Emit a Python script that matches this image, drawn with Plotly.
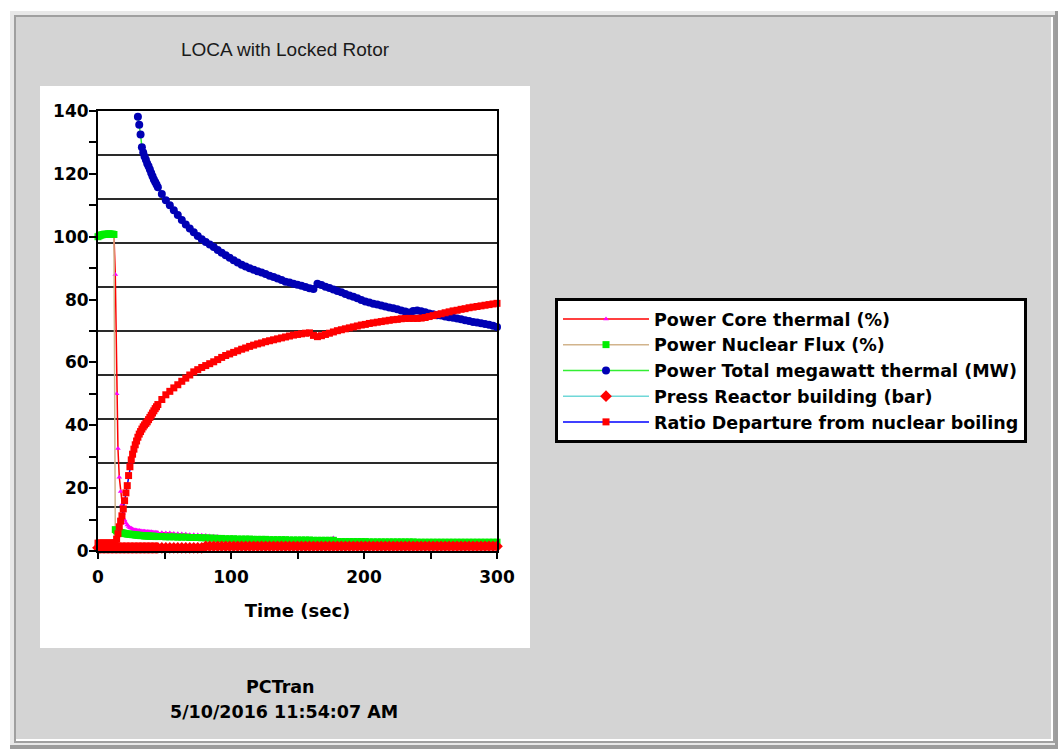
import plotly.graph_objects as go

# ---------------- data ----------------
time_s = list(range(0, 45)) + list(range(45, 301, 3))  # sample times (s)

power_core_thermal = [
    100.0, 100.2, 100.4, 100.5, 100.6, 100.6, 100.7, 100.7, 100.8, 100.8, 100.8, 100.8,
    100.6,
    88.0, 50.0, 32.6, 23.5, 18.9, 14.8, 12.0, 9.9, 8.9, 8.3, 7.8, 7.4, 7.2, 7.0, 6.8, 6.7, 6.6, 6.5,
    6.5, 6.4, 6.4, 6.3, 6.3, 6.2, 6.2, 6.1, 6.1, 6.1, 6.0, 6.0, 6.0, 5.9,
    5.9, 5.8, 5.7, 5.7, 5.6, 5.5, 5.4, 5.3, 5.2, 5.2,
    5.1, 5.0, 4.9, 4.8, 4.7, 4.6, 3.9, 3.8, 3.8, 3.8,
    3.7, 3.7, 3.7, 3.7, 3.6, 3.6, 3.6, 3.6, 3.5, 3.5,
    3.5, 3.5, 3.5, 3.4, 3.4, 3.4, 3.4, 3.4, 3.4, 3.3,
    3.3, 3.3, 3.3, 3.3, 4.1, 2.9, 2.9, 2.9, 2.9, 2.9,
    2.9, 2.9, 2.9, 2.8, 2.8, 2.8, 2.8, 2.8, 2.8, 2.8,
    2.8, 2.8, 2.8, 2.8, 2.8, 2.7, 2.7, 2.7, 2.7, 2.7,
    2.7, 2.7, 2.7, 2.7, 2.7, 2.7, 2.7, 2.7, 2.7, 2.7,
    2.7, 2.7, 2.7, 2.7, 2.7, 2.7,
]

power_nuclear_flux = [
    100.0, 100.3, 100.5, 100.6, 100.7, 100.8, 100.8, 100.8, 100.9, 100.9, 100.8, 100.8,
    100.7,
    6.8, 6.4, 6.2, 6.0, 5.9, 5.8, 5.7, 5.6, 5.5, 5.4, 5.4, 5.3, 5.3, 5.2, 5.2, 5.1, 5.1, 5.0,
    5.0, 4.9, 4.9, 4.9, 4.8, 4.8, 4.8, 4.8, 4.7, 4.7, 4.7, 4.7, 4.6, 4.6,
    4.6, 4.6, 4.5, 4.5, 4.5, 4.4, 4.4, 4.4, 4.3, 4.3,
    4.3, 4.2, 4.2, 4.1, 4.1, 4.0, 4.0, 3.9, 3.9, 3.9,
    3.8, 3.8, 3.8, 3.8, 3.7, 3.7, 3.7, 3.7, 3.6, 3.6,
    3.6, 3.6, 3.6, 3.5, 3.5, 3.5, 3.5, 3.5, 3.5, 3.4,
    3.4, 3.4, 3.4, 3.4, 3.4, 3.0, 3.0, 3.0, 3.0, 3.0,
    3.0, 3.0, 3.0, 2.9, 2.9, 2.9, 2.9, 2.9, 2.9, 2.9,
    2.9, 2.9, 2.9, 2.9, 2.9, 2.8, 2.8, 2.8, 2.8, 2.8,
    2.8, 2.8, 2.8, 2.8, 2.8, 2.8, 2.8, 2.8, 2.8, 2.8,
    2.8, 2.8, 2.8, 2.8, 2.8, 2.8,
]

power_total_mw = [
    None, None, None, None, None, None, None, None, None, None,
    None, None, None, None, None, None, None, None, None, None,
    None, None, None, None, None, None, None, None, None, None,
    138.2, 135.6, 132.5, 128.5, 126.8, 125.5, 124.5, 123.3, 122.4, 121.4,
    120.3, 119.2, 118.2, 117.4, 116.6,
    115.7, 113.6, 111.6, 110.0, 108.4, 106.9, 105.3, 103.9, 102.6, 101.4,
    100.2, 99.2, 98.3, 97.5, 96.7, 95.8, 94.9, 94.1, 93.3, 92.5,
    91.8, 91.1, 90.5, 90.0, 89.5, 89.0, 88.6, 88.1, 87.6, 87.2,
    86.7, 86.2, 85.7, 85.4, 85.0, 84.7, 84.4, 84.0, 83.6, 83.4,
    85.0, 84.6, 84.1, 83.7, 83.2, 82.7, 82.3, 81.8, 81.3, 80.9,
    80.4, 79.9, 79.4, 79.1, 78.7, 78.4, 78.1, 77.8, 77.5, 77.2,
    76.9, 76.5, 76.2, 75.9, 76.4, 76.5, 76.3, 76.0, 75.6, 75.3,
    75.0, 74.9, 74.6, 74.4, 74.2, 74.0, 73.7, 73.4, 73.2, 72.9,
    72.7, 72.5, 72.2, 72.0, 71.7, 71.3,
]

press_reactor_building = [
    1.0, 1.0, 1.0, 1.0, 1.0, 1.0, 1.0, 1.0, 1.0, 1.0, 1.0, 1.0, 1.0, 1.0, 1.0,
    1.0, 1.0, 1.0, 1.0, 1.0, 1.0, 1.0, 1.0, 1.0, 1.0, 1.0, 1.0, 1.0, 1.0, 1.0,
    1.0, 1.0, 1.0, 1.0, 1.0, 1.0, 1.0, 1.0, 1.0, 1.0, 1.0, 1.0, 1.0, 1.0, 1.0,
    1.0, 1.0, 1.0, 1.0, 1.0, 1.0, 1.0, 1.0, 1.0, 1.0, 1.0, 1.0,
    1.5, 1.5, 1.5, 1.5, 1.5, 1.5, 1.5, 1.5, 1.5, 1.5, 1.5, 1.5, 1.5, 1.5, 1.5,
    1.5, 1.5, 1.5, 1.5, 1.5, 1.5, 1.5, 1.5, 1.5, 1.5, 1.5, 1.5, 1.5, 1.5, 1.5,
    1.5, 1.5, 1.5, 1.5, 1.5, 1.5, 1.5, 1.5, 1.5, 1.5, 1.5, 1.5, 1.5, 1.5, 1.5,
    1.5, 1.5, 1.5, 1.5, 1.5, 1.5, 1.5, 1.5, 1.5, 1.5, 1.5, 1.5, 1.5, 1.5, 1.5,
    1.5, 1.5, 1.5, 1.5, 1.5, 1.5, 1.5, 1.5, 1.5, 1.5, 1.5, 1.5, 1.5, 1.5,
]

ratio_dnb = [
    2.5, 2.5, 2.5, 2.5, 2.5, 2.5, 2.5, 2.5, 2.5, 2.5, 2.5, 2.5, 2.5,
    2.6, 3.8, 5.5, 7.7, 9.5, 11.2, 13.4, 16.0, 18.5, 20.8, 24.0, 26.8, 29.0, 30.8, 32.4, 33.8, 35.0, 36.2,
    37.2, 38.0, 38.8, 39.5, 40.1, 40.6, 41.1, 41.8, 42.5, 43.2, 43.9, 44.6, 45.3, 45.9,
    46.6, 48.2, 49.7, 50.8, 51.9, 52.9, 54.0, 55.0, 56.0, 57.0,
    57.7, 58.4, 59.0, 59.6, 60.2, 60.9, 61.6, 62.2, 62.7, 63.2,
    63.7, 64.2, 64.6, 65.1, 65.5, 65.9, 66.2, 66.6, 66.9, 67.2,
    67.5, 67.8, 68.1, 68.4, 68.7, 68.9, 69.1, 69.3, 69.4, 68.6,
    68.2, 68.5, 68.9, 69.3, 69.7, 70.1, 70.4, 70.7, 71.0, 71.3,
    71.6, 71.9, 72.1, 72.4, 72.6, 72.8, 73.0, 73.2, 73.4, 73.6,
    73.7, 73.9, 74.0, 74.0, 74.0, 74.0, 74.1, 74.3, 74.6, 74.9,
    75.2, 75.5, 75.8, 76.1, 76.4, 76.6, 76.9, 77.1, 77.4, 77.6,
    77.8, 78.0, 78.2, 78.4, 78.6, 78.8,
]

series_names = [
    "Power Core thermal (%)",
    "Power Nuclear Flux (%)",
    "Power Total megawatt thermal (MW)",
    "Press Reactor building (bar)",
    "Ratio Departure from nuclear boiling",
]

x_ticks = [0, 100, 200, 300]
y_ticks = [0, 20, 40, 60, 80, 100, 120, 140]

# ---------------- styling ----------------
W, H = 1058, 749
PL, PR, PT, PB = 98, 497, 111, 551  # plot area in pixels


def fx(p):
    return (p - PL) / (PR - PL)


def fy(p):
    return (PB - p) / (PB - PT)


styles = [
    dict(line="#ff0000", marker="#ff00ff", symbol="triangle-up", size=5),
    dict(line="#d2b48c", marker="#00ee00", symbol="square", size=7),
    dict(line="#33ee33", marker="#0000b4", symbol="circle", size=8),
    dict(line="#70d8d8", marker="#ff0000", symbol="diamond", size=9),
    dict(line="#0000ff", marker="#ff0000", symbol="square", size=7),
]
series_values = [power_core_thermal, power_nuclear_flux, power_total_mw,
                 press_reactor_building, ratio_dnb]

fig = go.Figure()
for name, vals, st in zip(series_names, series_values, styles):
    fig.add_trace(go.Scatter(
        x=time_s, y=vals, name=name, mode="lines+markers",
        line=dict(color=st["line"], width=1.5),
        marker=dict(color=st["marker"], symbol=st["symbol"], size=st["size"],
                    line=dict(width=0)),
        cliponaxis=False, connectgaps=False,
    ))

# overlay axis that only carries the horizontal grid lines
fig.add_trace(go.Scatter(x=[], y=[], yaxis="y2", showlegend=False, hoverinfo="skip"))

tick_font = dict(family="DejaVu Sans", size=17, color="black", weight="bold")

shapes = []


def rect(x0, y0, x1, y1, color):
    shapes.append(dict(type="rect", xref="paper", yref="paper",
                       x0=fx(x0), x1=fx(x1), y0=fy(y1), y1=fy(y0),
                       fillcolor=color, line=dict(width=0), layer="below"))


rect(10, 11, 1058, 749, "#9c9c9c")
rect(10, 11, 1055, 745, "#e8e8e8")
rect(14, 15, 1055, 743, "#a0a0a0")
rect(16, 17, 1053, 741, "#ffffff")
rect(16, 17, 1051, 739, "#d4d4d4")
rect(40, 86, 530, 648, "#ffffff")

annotations = [
    dict(text="LOCA with Locked Rotor", x=fx(285), y=fy(50), xref="paper", yref="paper",
         showarrow=False, xanchor="center", yanchor="middle",
         font=dict(family="Liberation Sans, Arial", size=19, color="#1a1a1a")),
    dict(text="PCTran", x=fx(280), y=fy(687), xref="paper", yref="paper",
         showarrow=False, xanchor="center", yanchor="middle",
         font=dict(family="DejaVu Sans", size=17.5, color="black", weight="bold")),
    dict(text="5/10/2016 11:54:07 AM", x=fx(284), y=fy(712), xref="paper", yref="paper",
         showarrow=False, xanchor="center", yanchor="middle",
         font=dict(family="DejaVu Sans", size=17.5, color="black", weight="bold")),
]

fig.update_layout(
    width=W, height=H,
    margin=dict(l=PL, r=W - PR, t=PT, b=H - PB, pad=0),
    paper_bgcolor="#ffffff", plot_bgcolor="#ffffff",
    showlegend=True,
    legend=dict(
        x=fx(555), y=fy(298), xanchor="left", yanchor="top",
        bgcolor="white", bordercolor="black", borderwidth=3,
        font=dict(family="DejaVu Sans", size=17.5, color="black", weight="bold"),
        itemwidth=86, tracegroupgap=0,
    ),
    xaxis=dict(
        range=[0, 300], tickvals=x_ticks, ticks="outside", ticklen=6, tickwidth=1.5,
        tickcolor="black", showgrid=False, zeroline=False,
        showline=True, linecolor="black", linewidth=2, mirror=True,
        tickfont=tick_font, ticklabelstandoff=4,
        minor=dict(dtick=50, ticks="outside", ticklen=6, tickwidth=1.5, tickcolor="black", showgrid=False),
        title=dict(text="Time (sec)", standoff=18,
                   font=dict(family="DejaVu Sans", size=18, color="black", weight="bold")),
    ),
    yaxis=dict(
        range=[0, 140], tickvals=y_ticks, ticks="outside", ticklen=7, tickwidth=1.5,
        tickcolor="black", showgrid=False, zeroline=False,
        showline=True, linecolor="black", linewidth=2, mirror=True,
        tickfont=tick_font, ticklabelstandoff=-3,
        minor=dict(dtick=10, ticks="outside", ticklen=7, tickwidth=1.5, tickcolor="black", showgrid=False),
    ),
    yaxis2=dict(
        overlaying="y", range=[0, 140], tick0=0, dtick=14, showgrid=True,
        gridcolor="#2a2a2a", gridwidth=1.5, showticklabels=False, ticks="",
        showline=False, zeroline=False,
    ),
    shapes=shapes,
    annotations=annotations,
)

fig.write_html("out.html")
